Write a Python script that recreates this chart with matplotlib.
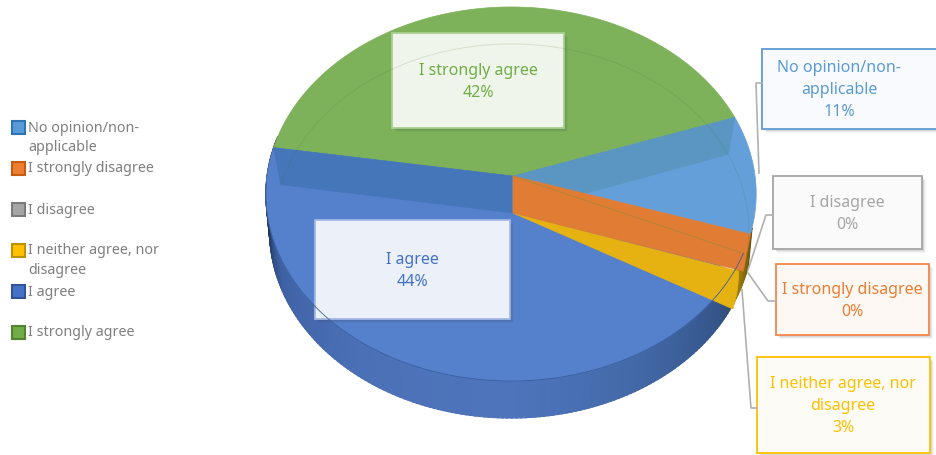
import matplotlib
matplotlib.use('Agg')

import matplotlib.pyplot as plt
import numpy as np
from matplotlib.patches import Rectangle

plt.rcParams['font.family'] = ['Noto Sans', 'DejaVu Sans']

categories = ['No opinion/non-\napplicable', 'I strongly disagree', 'I disagree',
              'I neither agree, nor\ndisagree', 'I agree', 'I strongly agree']
# slice sizes, the two 0% ones have no width
shares = [10.3, 0.0, 0.0, 3.3, 44.2, 42.2]
pct_labels = ['11%', '0%', '0%', '3%', '44%', '42%']

face_colors = ['#659FD9', '#E07C33', '#A5A5A5', '#E6B212', '#5580CC', '#7DB25A']
text_colors = ['#5B9BD5', '#ED7D31', '#A5A5A5', '#FFC000', '#4472C4', '#70AD47']
legend_edge = ['#2E75B6', '#C55A11', '#7B7B7B', '#BF9000', '#2F5597', '#548235']
legend_fill = ['#5B9BD5', '#ED7D31', '#A5A5A5', '#FFC000', '#4472C4', '#70AD47']
legend_y = [127, 168, 209, 250, 291, 332]

# x0, x1, y0, y1, text x, edge colour, face colour
boxes = [(762, 945, 49, 129, 839, '#5B9BD5', '#F8FAFD'),
         (776, 929, 264, 335, 852, '#F4874A', '#FEF8F4'),
         (773, 922, 176, 249, 847, '#A5A5A5', '#FAFAFA'),
         (757, 930, 357, 453, 843, '#FFC000', '#FDFBF5'),
         (315, 510, 220, 319, 412, '#A3B8E4', '#EBF0F9'),
         (392, 564, 33, 128, 478, '#A9CF90', '#EFF5EA')]

leaders = [[(762, 83), (756, 83), (759, 173)],
           [(773, 215), (766, 215), (748, 270)],
           [(776, 301), (768, 301), (748, 273)],
           [(757, 408), (751, 408), (742, 290)]]

fig = plt.figure(figsize=(9.36, 4.55), dpi=100)
ax = fig.add_axes([0, 0, 1, 1])
ax.set_xlim(0, 936)
ax.set_ylim(455, 0)
ax.axis('off')

cx = 513
top_y = 176
low_y = 213
A, B, k, m = 244, 185.3, 0.0962, 0.008


def rim(deg, apex_y, scale=1.0):
    t = np.radians(deg)
    u, v = np.sin(t), np.cos(t)
    w = 1 + k * v + m * u
    return cx + scale * A * u / w, apex_y - B * v / w


edges = 70.8 + np.cumsum([0] + [s * 3.6 for s in shares])


def wedge(a0, a1, apex_y, scale=1.0):
    t = np.linspace(a0, a1, 120)
    x, y = rim(t, apex_y, scale)
    return np.r_[cx, x], np.r_[apex_y, y]


def wall(deg):
    x0, y0 = rim(deg, top_y)
    x1, y1 = rim(deg, low_y, 0.97)
    return [cx, x0, x1, cx], [top_y, y0, y1, low_y]


# outer side, darker to the ends
stops = [108, 125, 150, 180, 215, 245, 265, 280]
r = [60, 52, 66, 78, 76, 62, 30, 20]
g = [70, 84, 104, 117, 112, 98, 52, 35]
b = [60, 136, 166, 188, 182, 164, 90, 60]
steps = np.arange(106, 282, 1.0)
for a in steps:
    xa, ya = rim(np.array([a, a + 1.5]), top_y)
    xb, yb = rim(np.array([a + 1.5, a]), low_y, 0.985)
    col = (np.interp(a, stops, r) / 255, np.interp(a, stops, g) / 255, np.interp(a, stops, b) / 255)
    if a < edges[4]:
        col = (0.42 + 0.3 * (a - 106) / 14, 0.33 + 0.24 * (a - 106) / 14, 0.05)
    ax.fill(np.r_[xa, xb], np.r_[ya, yb], color=col, lw=0.8)

# top face
for i in [0, 4, 5]:
    x, y = wedge(edges[i], edges[i + 1], top_y)
    ax.fill(x, y, color=face_colors[i], lw=0.5)

# floor of the yellow slice, seen through the top
x, y = wedge(edges[3], edges[4], low_y, np.linspace(0.95, 0.995, 120))
ax.fill(x, y, color=face_colors[3], lw=0.5)

# inner walls
x, y = wall(edges[5])
ax.fill(x, y, color='#4676BA', lw=0.5)
x, y = wall(edges[0])
ax.fill(x, y, color='#5A96C1', lw=0.5)
x, y = wall(edges[1])
ax.fill(x, y, color=face_colors[1], lw=0.5)

# top edge of the yellow slice across the orange wall
x, y = rim(np.array([edges[3] + 6.0]), top_y)
ax.plot([cx, x[0]], [top_y, y[0]], color='#9A8A3A', lw=0.7, alpha=0.7)

# far rim of the bottom, faint through the top face
t = np.linspace(edges[5], edges[1] + 360, 200)
x, y = rim(t, low_y, 0.97)
ax.plot(x, y, color='#3F6B30', lw=0.7, alpha=0.15)

# near rim of the top face
t = np.linspace(edges[3] + 6.0, 268, 200)
x, y = rim(t, top_y)
ax.plot(x, y, color='#3A5F9F', lw=0.6)

for path in leaders:
    ax.plot([p[0] for p in path], [p[1] for p in path], color='#B0B0B0', lw=1.2)

for i, box in enumerate(boxes):
    x0, x1, y0, y1, tx, ec, fc = box
    for off, alpha in [(4, 0.05), (3, 0.07), (2, 0.09)]:
        ax.add_patch(Rectangle((x0 + off, y0 + off), x1 - x0, y1 - y0, color='#404040', alpha=alpha, lw=0))
    ax.add_patch(Rectangle((x0, y0), x1 - x0, y1 - y0, facecolor=fc, edgecolor=ec, lw=1.3))
    ax.text(tx, (y0 + y1) / 2 + 1.5, categories[i] + '\n' + pct_labels[i], ha='center', va='center',
            multialignment='center', color=text_colors[i], fontsize=11.5, linespacing=1.5)

for i, name in enumerate(categories):
    ax.add_patch(Rectangle((12, legend_y[i] - 6), 13, 13, facecolor=legend_fill[i], edgecolor=legend_edge[i], lw=1.5))
    ax.text(28, legend_y[i] - 6.5, name, ha='left', va='top', color='#7F7F7F', fontsize=10.3, linespacing=1.42)

plt.savefig('out.png', dpi=100)
